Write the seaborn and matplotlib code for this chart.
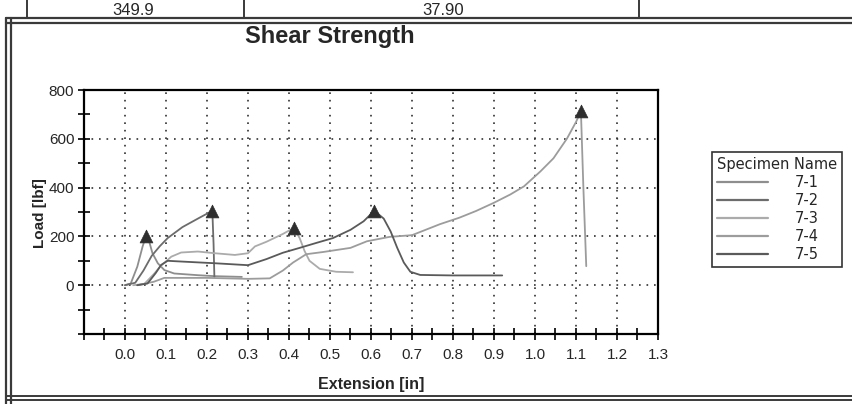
import numpy as np
import pandas as pd
import matplotlib
matplotlib.use("Agg")
import matplotlib.pyplot as plt
import seaborn as sns
from matplotlib import font_manager
from matplotlib.lines import Line2D

# ---------------- data ----------------
specimens = ["7-1", "7-2", "7-3", "7-4", "7-5"]

ext_7_1 = [0.0, 0.014, 0.03, 0.043, 0.051, 0.059, 0.067, 0.08, 0.096, 0.12, 0.178, 0.219, 0.285]
load_7_1 = [0, 7, 76, 159, 200, 179, 131, 90, 62, 48, 41, 37, 34]

ext_7_2 = [0.0, 0.025, 0.045, 0.065, 0.085, 0.104, 0.14, 0.18, 0.213, 0.216, 0.218]
load_7_2 = [0, 10, 60, 120, 160, 193, 238, 275, 305, 170, 34]

ext_7_3 = [0.02, 0.047, 0.07, 0.088, 0.113, 0.137, 0.178, 0.219, 0.268, 0.3, 0.317, 0.345,
           0.385, 0.412, 0.426, 0.438, 0.45, 0.475, 0.515, 0.556]
load_7_3 = [0, 5, 45, 80, 117, 134, 138, 131, 124, 131, 159, 178,
            210, 235, 193, 140, 100, 67, 55, 53]

ext_7_4 = [0.03, 0.07, 0.096, 0.2, 0.3, 0.353, 0.385, 0.41, 0.442, 0.483, 0.55, 0.59, 0.645,
           0.7, 0.768, 0.816, 0.856, 0.9, 0.94, 0.973, 1.013, 1.045, 1.078, 1.1, 1.112, 1.118, 1.125]
load_7_4 = [0, 14, 30, 30, 26, 28, 60, 93, 127, 136, 153, 180, 198,
            205, 250, 277, 304, 338, 372, 405, 466, 520, 601, 669, 712, 400, 78]

ext_7_5 = [0.03, 0.055, 0.075, 0.088, 0.104, 0.137, 0.219, 0.3, 0.345, 0.385, 0.426, 0.466,
           0.507, 0.55, 0.582, 0.608, 0.631, 0.648, 0.664, 0.68, 0.696, 0.72, 0.8, 0.92]
load_7_5 = [0, 7, 50, 83, 100, 97, 90, 82, 107, 133, 153, 173,
            193, 227, 262, 305, 273, 220, 153, 93, 55, 42, 40, 40]

x_ticks = [0.0, 0.1, 0.2, 0.3, 0.4, 0.5, 0.6, 0.7, 0.8, 0.9, 1.0, 1.1, 1.2, 1.3]
y_ticks = [0, 200, 400, 600, 800]

title_text = "Shear Strength"
x_label = "Extension [in]"
y_label = "Load [lbf]"
legend_title = "Specimen Name"
table_texts = ["349.9", "37.90"]

colors = ["#8e8e8e", "#6c6c6c", "#ababab", "#9c9c9c", "#5a5a5a"]

# ---------------- dataframe ----------------
series = [(ext_7_1, load_7_1), (ext_7_2, load_7_2), (ext_7_3, load_7_3),
          (ext_7_4, load_7_4), (ext_7_5, load_7_5)]
frames = []
peaks = []
for name, (xs, ys) in zip(specimens, series):
    d = pd.DataFrame({"Extension": xs, "Load": ys, "Specimen": name})
    frames.append(d)
    i = int(np.argmax(ys))
    peaks.append({"Extension": xs[i], "Load": ys[i], "Specimen": name})
df = pd.concat(frames, ignore_index=True)
peak_df = pd.DataFrame(peaks)

# ---------------- style ----------------
sns.set_style("white")
avail = {f.name for f in font_manager.fontManager.ttflist}
narrow = "Liberation Sans Narrow" if "Liberation Sans Narrow" in avail else "Liberation Sans"
plt.rcParams["font.family"] = [narrow, "Liberation Sans", "DejaVu Sans"]

W, H = 853, 404
fig = plt.figure(figsize=(W / 100, H / 100), dpi=100)
fig.patch.set_facecolor("white")

def fx(px):
    return px / W

def fy(py):
    return 1 - py / H

ax = fig.add_axes([fx(84), fy(334), fx(658) - fx(84), fy(90) - fy(334)])

pal = dict(zip(specimens, colors))
sns.lineplot(data=df, x="Extension", y="Load", hue="Specimen", units="Specimen",
             estimator=None, sort=False, palette=pal, linewidth=1.3, ax=ax, legend=False,
             zorder=3)
sns.scatterplot(data=peak_df, x="Extension", y="Load", marker="^", s=85,
                color="#2e2e2e", edgecolor="#2e2e2e", linewidth=0.5, ax=ax, legend=False,
                zorder=4)

ax.set_xlim(-0.1, 1.3)
ax.set_ylim(-200, 800)

xt_major = [-0.1] + x_ticks
ax.set_xticks(xt_major)
ax.set_xticklabels([""] + [f"{v:.1f}" for v in x_ticks], fontsize=11)
ax.set_xticks([v + 0.05 for v in xt_major[:-1]], minor=True)
yt_major = [-200] + y_ticks
ax.set_yticks(yt_major)
ax.set_yticklabels([""] + [str(v) for v in y_ticks], fontsize=11)
ax.set_yticks([v + 100 for v in yt_major[:-1]], minor=True)

ax.tick_params(which="both", direction="inout", length=8, width=1.2, color="black")
ax.tick_params(axis="x", which="major", pad=6)
ax.tick_params(axis="y", which="major", pad=3)
ax.tick_params(axis="both", which="both", bottom=True, left=True, top=False, right=False)

for sp in ax.spines.values():
    sp.set_visible(True)
    sp.set_color("black")
    sp.set_linewidth(1.6)

ax.grid(True, which="major", color="#303030", linestyle=(0, (1, 3.5)), linewidth=1.2)
ax.set_axisbelow(True)
ax.set_xlabel("")
ax.set_ylabel("")

# labels and title
fig.text(fx(330), fy(36), title_text, ha="center", va="center", fontsize=17,
         fontweight="bold", family=["Liberation Sans", "DejaVu Sans"])
fig.text(fx(371), fy(384), x_label, ha="center", va="center", fontsize=11.5,
         fontweight="bold")
fig.text(fx(40), fy(213), y_label, ha="center", va="center", fontsize=11,
         fontweight="bold", rotation=90)

# legend
handles = [Line2D([0], [0], color=c, lw=1.6) for c in colors]
leg = ax.legend(handles, specimens, title=legend_title, loc="upper left",
                bbox_to_anchor=(fx(712), fy(152)), bbox_transform=fig.transFigure,
                borderaxespad=0, frameon=True, fancybox=False, edgecolor="black",
                handlelength=3.5, handletextpad=1.8, labelspacing=0.2,
                borderpad=0.35, alignment="left",
                prop={"family": "DejaVu Sans", "size": 10.5},
                title_fontproperties={"family": "DejaVu Sans", "size": 10.5})
leg.get_frame().set_linewidth(1.2)

# page frame (scan)
frame_col = "#3a3a3a"
for py in (18, 23):
    fig.add_artist(Line2D([fx(6), 1], [fy(py), fy(py)], color=frame_col, lw=1.6))
for px in (6, 11):
    fig.add_artist(Line2D([fx(px), fx(px)], [0, fy(18)], color=frame_col, lw=1.6))
for py in (396, 400):
    fig.add_artist(Line2D([fx(6), 1], [fy(py), fy(py)], color=frame_col, lw=1.4))
for px in (27, 244, 639):
    fig.add_artist(Line2D([fx(px), fx(px)], [fy(18), 1], color=frame_col, lw=1.4))
fig.text(fx(133), fy(15), table_texts[0], ha="center", va="baseline", fontsize=12,
         family=["Liberation Sans", "DejaVu Sans"])
fig.text(fx(443), fy(15), table_texts[1], ha="center", va="baseline", fontsize=12,
         family=["Liberation Sans", "DejaVu Sans"])

fig.savefig("out.png", dpi=100)
